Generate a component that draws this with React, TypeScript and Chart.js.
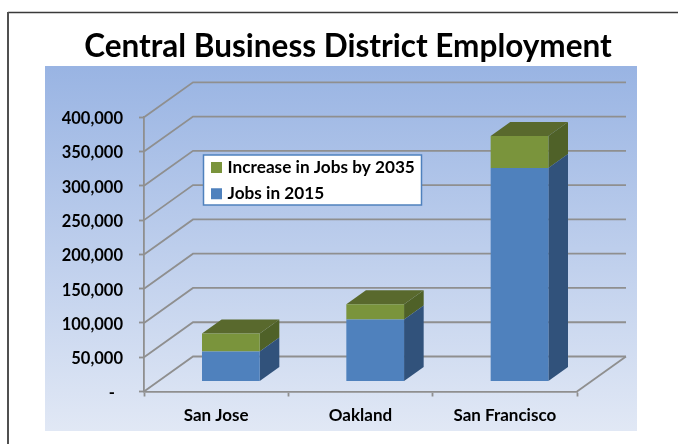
import React, { useEffect, useRef } from "react";
import { Chart, registerables } from "chart.js";

Chart.register(...registerables);

const titleText = "Central Business District Employment";
const categories = ["San Jose", "Oakland", "San Francisco"];
const jobs2015 = [43800, 90500, 311400];
const jobsIncrease = [26300, 22300, 46700];
const seriesNames = ["Jobs in 2015", "Increase in Jobs by 2035"];

const FONT = "Lato";
const CANVAS_W = 678;
const CANVAS_H = 444;

// Oblique projection of the chart's depth axis
const DEPTH_X = 49;
const DEPTH_Y = 35;
const BAR_GAP = 0.3;
const BAR_DEPTH = 0.4;

const GRID = "#8F8F8F";
const PANEL = { x: 45, y: 66, w: 592, h: 365 };
const KEY_BOX = { x: 203.5, y: 155, w: 218, h: 50 };

const FACE = ["#4F81BD", "#7A943C"];
const SIDE = ["#31527B", "#4F6128"];
const TOP = "#59692D";

const barOffsetX = DEPTH_X * BAR_GAP;
const barOffsetY = -10;

const prism = {
  id: "prism",
  afterLayout(chart: any) {
    // The legend floats over the back wall
    chart.legend.left = 205;
    chart.legend.top = 150;
    // The title is centred on the panel, not on the axes
    chart.titleBlock.left = PANEL.x - 5;
    chart.titleBlock.right = PANEL.x + PANEL.w + 19;
  },
  beforeDraw(chart: any) {
    const { ctx, chartArea: a, scales } = chart;
    ctx.save();

    ctx.fillStyle = "#FFFFFF";
    ctx.fillRect(0, 0, chart.width, chart.height);

    // Outer frame: only its top and left edges fall inside the canvas
    ctx.strokeStyle = "#3A3A3A";
    ctx.lineWidth = 1.5;
    ctx.beginPath();
    ctx.moveTo(chart.width, 12.5);
    ctx.lineTo(8, 12.5);
    ctx.stroke();
    ctx.strokeStyle = "#505050";
    ctx.lineWidth = 2;
    ctx.beginPath();
    ctx.moveTo(8, 12);
    ctx.lineTo(8, chart.height);
    ctx.stroke();

    // Panel gradient
    const g = ctx.createLinearGradient(0, PANEL.y, 0, PANEL.y + PANEL.h);
    g.addColorStop(0, "#99B4E3");
    g.addColorStop(1, "#E1E8F5");
    ctx.fillStyle = g;
    ctx.fillRect(PANEL.x, PANEL.y, PANEL.w, PANEL.h);

    // Side wall and back wall lines at each tick
    ctx.strokeStyle = GRID;
    ctx.lineWidth = 1.8;
    ctx.lineJoin = "miter";
    for (const tick of scales.y.ticks) {
      const y = scales.y.getPixelForValue(tick.value);
      ctx.beginPath();
      ctx.moveTo(a.left, y);
      ctx.lineTo(a.left + DEPTH_X, y - DEPTH_Y);
      ctx.lineTo(a.right + DEPTH_X, y - DEPTH_Y);
      ctx.stroke();
    }
    // Floor edge on the right
    ctx.beginPath();
    ctx.moveTo(a.right, a.bottom);
    ctx.lineTo(a.right + DEPTH_X, a.bottom - DEPTH_Y);
    ctx.stroke();

    // Legend panel
    ctx.fillStyle = "#FFFFFF";
    ctx.strokeStyle = "#4F81BD";
    ctx.lineWidth = 1.5;
    ctx.fillRect(KEY_BOX.x, KEY_BOX.y, KEY_BOX.w, KEY_BOX.h);
    ctx.strokeRect(KEY_BOX.x, KEY_BOX.y, KEY_BOX.w, KEY_BOX.h);

    ctx.restore();
  },
  beforeDatasetDraw(chart: any, args: any) {
    const { ctx } = chart;
    const last = chart.data.datasets.length - 1;
    const dx = DEPTH_X * BAR_DEPTH;
    const dy = DEPTH_Y * BAR_DEPTH;

    ctx.save();
    ctx.translate(barOffsetX, barOffsetY);

    for (const el of args.meta.data) {
      const { x, y, base, width } = el.getProps(["x", "y", "base", "width"], true);
      const r = x + width / 2;
      const l = x - width / 2;

      // Right-hand face
      ctx.fillStyle = SIDE[args.index];
      ctx.beginPath();
      ctx.moveTo(r, y);
      ctx.lineTo(r + dx, y - dy);
      ctx.lineTo(r + dx, base - dy);
      ctx.lineTo(r, base);
      ctx.closePath();
      ctx.fill();

      // Cap on the top segment of the stack
      if (args.index === last) {
        ctx.fillStyle = TOP;
        ctx.beginPath();
        ctx.moveTo(l, y);
        ctx.lineTo(l + dx, y - dy);
        ctx.lineTo(r + dx, y - dy);
        ctx.lineTo(r, y);
        ctx.closePath();
        ctx.fill();
      }
    }
    // Front faces are drawn by the bar controller inside this translation
  },
  afterDatasetDraw(chart: any) {
    chart.ctx.restore();
  },
};

const yLabel = (v: number | string) =>
  Number(v) === 0 ? "-\u00A0\u00A0" : Number(v).toLocaleString("en-US");

export default function App() {
  const ref = useRef<HTMLCanvasElement>(null);

  useEffect(() => {
    const chart = new Chart(ref.current as HTMLCanvasElement, {
      type: "bar",
      plugins: [prism],
      data: {
        labels: categories,
        datasets: [
          { label: seriesNames[0], data: jobs2015, backgroundColor: FACE[0], clip: false },
          { label: seriesNames[1], data: jobsIncrease, backgroundColor: FACE[1], clip: false },
        ],
      },
      options: {
        responsive: false,
        animation: false,
        events: [],
        layout: {
          autoPadding: false,
          padding: { left: 45, right: CANVAS_W - 577, top: 0, bottom: 12.5 },
        },
        datasets: { bar: { barPercentage: 0.4, categoryPercentage: 1 } },
        scales: {
          x: {
            stacked: true,
            afterFit(scale: any) {
              scale.height = 40;
            },
            grid: {
              drawOnChartArea: false,
              drawTicks: true,
              tickLength: 5,
              tickColor: GRID,
              tickWidth: 1.8,
            },
            border: { color: GRID, width: 1.8 },
            ticks: {
              color: "#000000",
              font: { family: FONT, weight: "bold", size: 17 },
              padding: 9,
              maxRotation: 0,
            },
          },
          y: {
            stacked: true,
            min: 0,
            max: 400000,
            afterFit(scale: any) {
              scale.width = 99;
            },
            grid: {
              drawOnChartArea: false,
              drawTicks: true,
              tickLength: 5,
              tickColor: GRID,
              tickWidth: 1.8,
            },
            border: { color: GRID, width: 1.8 },
            ticks: {
              stepSize: 50000,
              color: "#000000",
              font: { family: FONT, weight: "bold", size: 16.5 },
              padding: 16,
              labelOffset: 1.5,
              callback: yLabel,
            },
          },
        },
        plugins: {
          title: {
            display: true,
            text: titleText,
            color: "#000000",
            font: { family: FONT, weight: "bold", size: 31.5, lineHeight: 1.2 },
            padding: { top: 27.6, bottom: 51.9 },
          },
          legend: {
            display: true,
            position: "chartArea",
            fullSize: false,
            align: "start",
            reverse: true,
            labels: {
              boxWidth: 5,
              boxHeight: 5,
              padding: 9,
              color: "#000000",
              font: { family: FONT, weight: "bold", size: 17.2, lineHeight: 1.2 },
              generateLabels(c: any) {
                return c.data.datasets.map((d: any, i: number) => ({
                  text: d.label,
                  fillStyle: d.backgroundColor,
                  strokeStyle: d.backgroundColor,
                  lineWidth: 6,
                  datasetIndex: i,
                  fontColor: "#000000",
                }));
              },
            },
          },
          tooltip: { enabled: false },
        },
      } as any,
    });
    return () => chart.destroy();
  }, []);

  return (
    <div style={{ position: "fixed", left: 0, top: 0, width: 678, height: 444, overflow: "hidden" }}>
      <canvas
        ref={ref}
        width={CANVAS_W}
        height={CANVAS_H}
        style={{ display: "block", width: CANVAS_W, height: CANVAS_H }}
      />
    </div>
  );
}
